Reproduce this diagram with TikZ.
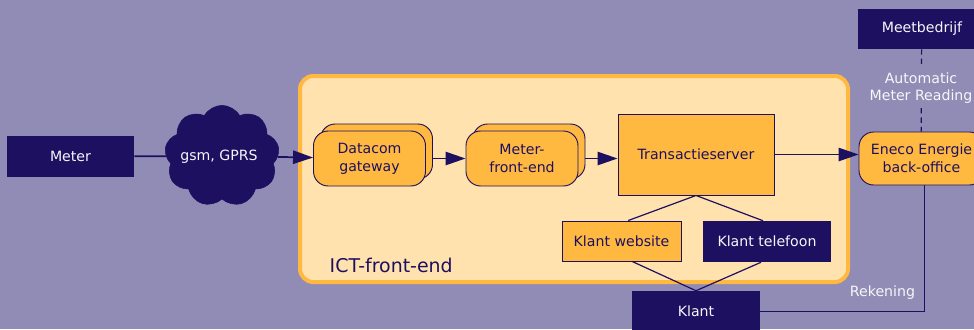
\documentclass[tikz,border=0pt]{standalone}
\usepackage{fontspec}
\setmainfont{DejaVu Sans}
\usepackage{tikz}
\usetikzlibrary{arrows.meta}
\usetikzlibrary{calc}
\usetikzlibrary{shapes.symbols}
\usetikzlibrary{shadows}
\definecolor{bgpurple}{RGB}{145,140,181}
\definecolor{dnavy}{RGB}{30,16,96}
\definecolor{dorange}{RGB}{255,185,65}
\definecolor{lorange}{RGB}{255,226,174}
\colorlet{ltext}{white!92!bgpurple}
\tikzstyle{flow}=[line width=1.3pt,draw=dnavy,>={Triangle[length=15pt,width=10pt]}]
\tikzstyle{fl}=[flow,->]
\tikzstyle{link}=[line width=.9pt,draw=dnavy]
\tikzstyle{dark}=[rectangle,fill=dnavy,text=ltext,align=center]
\tikzstyle{light}=[rectangle,fill=dorange,draw=dnavy,line width=.7pt,text=dnavy,align=center]
\tikzstyle{roundbox}=[light,rounded corners=11pt]
\tikzstyle{stack}=[roundbox,copy shadow={shadow xshift=5.25pt,shadow yshift=5.25pt,fill=dorange,draw=dnavy,line width=.7pt}]
\tikzstyle{net}=[cloud,cloud puffs=9,cloud puff arc=120,aspect=1.1,fill=dnavy,draw=dnavy,inner sep=0pt,minimum width=86pt,minimum height=76pt]
\begin{document}
\begin{tikzpicture}[x=0.75pt,y=-0.75pt,font=\fontsize{10.6}{13.5}\selectfont]
	\fill[bgpurple] (0,0) rectangle (974,329);
	\useasboundingbox (0,0) rectangle (974,329);
	\node[draw=dorange,fill=lorange,line width=3pt,rounded corners=10pt,minimum width=411pt,minimum height=154.5pt] (ict) at (574,179) {};
	\node[anchor=west,text=dnavy,font=\fontsize{14.2}{16}\selectfont] (ictlabel) at (325,265) {ICT-front-end};
	\node[dark,minimum width=95.25pt,minimum height=30.75pt] (meter) at (70.5,156.5) {Meter};
	\node[net] (net) at (222,156) {};
	\node[text=ltext] (nettext) at (219,157) {gsm, GPRS};
	\node[stack,minimum width=84pt,minimum height=41.25pt] (dg) at (369.5,158.5) {Datacom\\gateway};
	\node[stack,minimum width=84pt,minimum height=41.25pt] (mfe) at (522,158.5) {Meter-\\front-end};
	\node[light,minimum width=117pt,minimum height=60.75pt] (trans) at (696,154.5) {Transactieserver};
	\node[light,minimum width=89.25pt,minimum height=30pt] (web) at (621.5,241) {Klant website};
	\node[dark,minimum width=96pt,minimum height=30.75pt] (tel) at (767,241.5) {Klant telefoon};
	\node[dark,minimum width=96pt,minimum height=30.75pt] (klant) at (696,311.5) {Klant};
	\node[roundbox,minimum width=93.75pt,minimum height=39.75pt] (eneco) at (921.5,158.5) {Eneco Energie\\back-office};
	\node[dark,minimum width=96pt,minimum height=30pt] (meet) at (922,29) {Meetbedrijf};
	\node[text=ltext,align=center,font=\fontsize{10.6}{12.8}\selectfont] (amr) at (921,88) {Automatic\\Meter Reading};
	\node[text=ltext] (rek) at (882.5,293) {Rekening};
	\draw[flow] (meter) -- (net);
	\draw[fl] (net) -- (dg);
	\draw[fl] ([xshift=5.25pt]dg.east) -- (mfe.west);
	\draw[fl] ([xshift=5.25pt]mfe.east) -- (mfe.east -| trans.west);
	\draw[fl] (trans.east) -- (trans.east -| eneco.west);
	\draw[link] (trans.south) -- ([xshift=5pt]web.north);
	\draw[link] (trans.south) -- ([xshift=-3pt]tel.north);
	\draw[link] ([xshift=8pt]web.south) -- (klant.north);
	\draw[link] ([xshift=-4.5pt]tel.south) -- (klant.north);
	\draw[link] (klant.east) -| ([xshift=2.5pt]eneco.south);
	\draw[link,dash pattern=on 4pt off 3pt] (meet) -- (amr);
	\draw[link,dash pattern=on 4pt off 3pt] (amr) -- (eneco);
\end{tikzpicture}
\end{document}
